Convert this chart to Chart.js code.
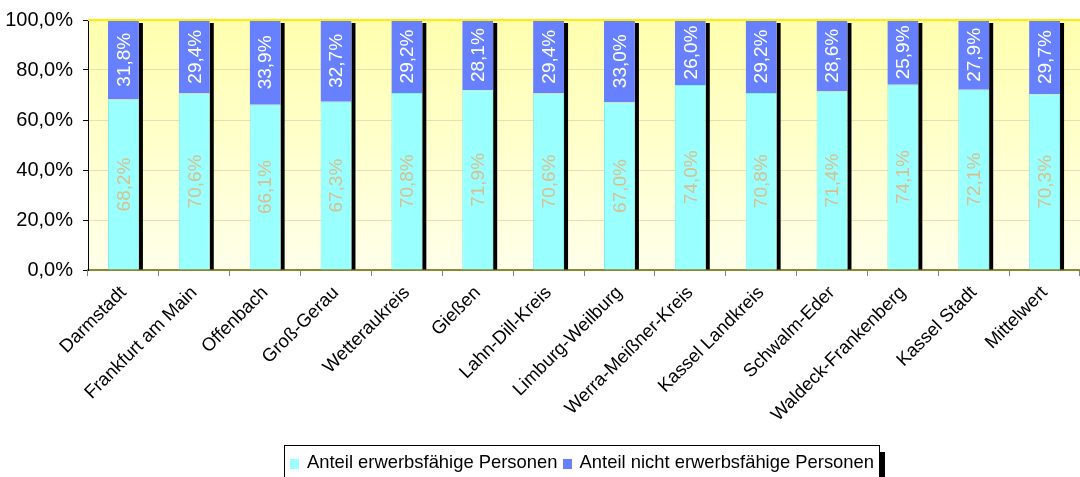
<!DOCTYPE html>
<html>
<head>
<meta charset="utf-8">
<script src="https://cdn.jsdelivr.net/npm/chart.js@4.4.0/dist/chart.umd.min.js"></script>
<style>
  html, body { margin: 0; padding: 0; background: #fff; overflow: hidden; }
  #wrap { position: relative; width: 1080px; height: 477px; }
  #legend {
    position: absolute; left: 284px; top: 445px; width: 596px; height: 50px;
    border: 1px solid #000; background: #fff; box-shadow: 5px 7px 0 #000;
    font-family: "Liberation Sans", Arial, sans-serif; font-size: 18.4px; color: #000;
    white-space: nowrap; box-sizing: border-box; padding: 5px 0 0 5px;
  }
  #legend span.sw { display: inline-block; width: 9px; height: 10px; margin-right: 8px; vertical-align: -1px; }
</style>
</head>
<body>
<div id="wrap">
  <canvas id="chart" width="1080" height="477"></canvas>
  <div id="legend"></div>
</div>
<script>
/**district names */
const districts = [
  "Darmstadt", "Frankfurt am Main", "Offenbach", "Groß-Gerau", "Wetteraukreis",
  "Gießen", "Lahn-Dill-Kreis", "Limburg-Weilburg", "Werra-Meißner-Kreis",
  "Kassel Landkreis", "Schwalm-Eder", "Waldeck-Frankenberg", "Kassel Stadt", "Mittelwert"
];
/**share of people able to work (%) */
const shareAble = [68.2, 70.6, 66.1, 67.3, 70.8, 71.9, 70.6, 67.0, 74.0, 70.8, 71.4, 74.1, 72.1, 70.3];
/**share of people not able to work (%) */
const shareNotAble = [31.8, 29.4, 33.9, 32.7, 29.2, 28.1, 29.4, 33.0, 26.0, 29.2, 28.6, 25.9, 27.9, 29.7];
const seriesNames = ["Anteil erwerbsfähige Personen", "Anteil nicht erwerbsfähige Personen"];
const yTicks = [0, 20, 40, 60, 80, 100];

const CYAN = "#99FFFF";
const BLUE = "#6680FF";
const fmt = (v) => v.toFixed(1).replace(".", ",") + "%";

Chart.defaults.font.family = '"Liberation Sans", Arial, sans-serif';
Chart.defaults.color = "#000";

/**yellow gradient behind the plot */
const plotBackground = {
  id: "plotBackground",
  beforeDraw(chart) {
    const { ctx, chartArea: a } = chart;
    const g = ctx.createLinearGradient(0, a.top, 0, a.bottom);
    g.addColorStop(0, "#FFFFAE");
    g.addColorStop(1, "#FFFFEA");
    ctx.save();
    ctx.fillStyle = g;
    ctx.fillRect(a.left, a.top, a.right - a.left, a.bottom - a.top);
    ctx.restore();
  },
  afterDraw(chart) {
    const { ctx, chartArea: a } = chart;
    ctx.save();
    ctx.strokeStyle = "#FFEE00";
    ctx.lineWidth = 2;
    ctx.beginPath();
    ctx.moveTo(a.left, a.top);
    ctx.lineTo(a.right, a.top);
    ctx.stroke();
    ctx.restore();
  },
};

/**black shadow on the right of every stacked bar */
const barShadow = {
  id: "barShadow",
  beforeDatasetsDraw(chart) {
    const { ctx } = chart;
    const low = chart.getDatasetMeta(0).data;
    const high = chart.getDatasetMeta(1).data;
    ctx.save();
    ctx.fillStyle = "#000";
    low.forEach((bar, i) => {
      const right = bar.x + bar.width / 2;
      const top = high[i].y + 3;
      ctx.fillRect(right, top, 4, bar.base - top);
    });
    ctx.restore();
  },
};

/**rotated value labels inside the bars */
const valueLabels = {
  id: "valueLabels",
  afterDatasetsDraw(chart) {
    const { ctx } = chart;
    ctx.save();
    ctx.font = '19px "Liberation Sans", Arial, sans-serif';
    ctx.textAlign = "center";
    ctx.textBaseline = "middle";
    chart.data.datasets.forEach((ds, di) => {
      ctx.fillStyle = di === 0 ? "#D6C090" : "#FFFFFF";
      chart.getDatasetMeta(di).data.forEach((bar, i) => {
        const cy = (bar.y + bar.base) / 2;
        ctx.save();
        ctx.translate(bar.x, cy);
        ctx.rotate(-Math.PI / 2);
        ctx.fillText(fmt(ds.data[i]), 0, 1);
        ctx.restore();
      });
    });
    ctx.restore();
  },
};

const ctx = document.getElementById("chart").getContext("2d");
const chart = new Chart(ctx, {
  type: "bar",
  data: {
    labels: districts,
    datasets: [
      { label: seriesNames[0], data: shareAble, backgroundColor: CYAN, borderColor: "#7FEFEF", borderWidth: 1 },
      { label: seriesNames[1], data: shareNotAble, backgroundColor: BLUE, borderColor: "#9AA0C8", borderWidth: { top: 1, left: 0, right: 0, bottom: 0 } },
    ],
  },
  options: {
    responsive: false,
    animation: false,
    devicePixelRatio: 1,
    categoryPercentage: 0.437,
    barPercentage: 1,
    layout: { padding: { top: 20, right: 0, left: 0, bottom: 0 } },
    plugins: { legend: { display: false }, tooltip: { enabled: false } },
    scales: {
      x: {
        stacked: true,
        afterFit: (s) => { s.height = 207; },
        grid: { offset: true, drawOnChartArea: false, drawTicks: true, tickLength: 6, tickColor: "#808080" },
        border: { color: "#8A8A30", width: 2 },
        ticks: { minRotation: 45, maxRotation: 45, padding: 6, font: { size: 18.5 }, color: "#000", autoSkip: false },
      },
      y: {
        stacked: true,
        min: 0,
        max: 100,
        afterFit: (s) => { s.width = 88; s.paddingTop = 0; },
        afterBuildTicks: (s) => { s.ticks = yTicks.map((v) => ({ value: v })); },
        grid: { color: "#E4E0B8", tickColor: "#000", tickLength: 5 },
        border: { color: "#000", width: 1 },
        ticks: { callback: (v) => fmt(v), font: { size: 20, lineHeight: 1 }, color: "#000", padding: 10 },
      },
    },
  },
  plugins: [plotBackground, barShadow, valueLabels],
});

/**html legend */
document.getElementById("legend").innerHTML = seriesNames
  .map((name, i) => '<span class="sw" style="background:' + (i === 0 ? CYAN : BLUE) + '"></span>' + name)
  .join(" ");
</script>
</body>
</html>
